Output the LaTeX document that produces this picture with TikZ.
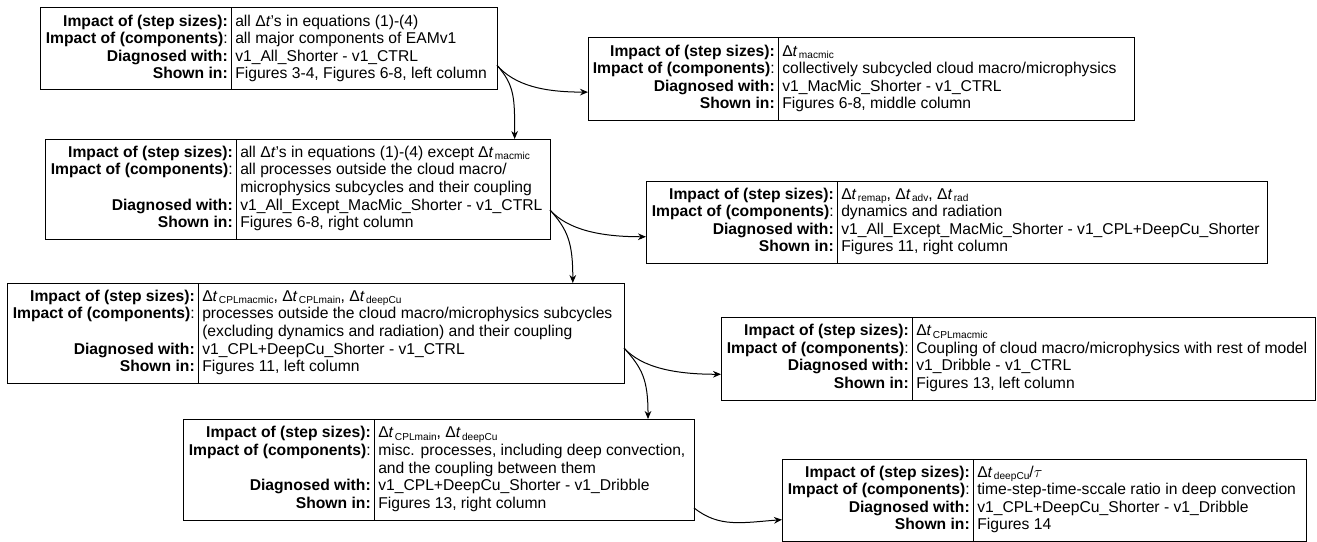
\documentclass[tikz,border=0pt]{standalone}
\usepackage{fontspec}
\setmainfont{Liberation Sans}
\usetikzlibrary{arrows.meta,calc,fit}

% type used inside the cards
\newcommand{\cardfont}{\fontsize{11.75}{13.2}\selectfont}
% one line of a card, bold heading / plain value
\newcommand{\hd}[1]{\strut\textbf{#1}}
\newcommand{\cellv}[1]{\strut #1}
% time step symbols
\newcommand{\dlt}{Δ\textit{t}}
\newcommand{\dtsub}[1]{Δ\textit{t}\kern1pt\raisebox{-0.3ex}{\fontsize{7.6}{8}\selectfont #1}}

\begin{document}
\begin{tikzpicture}[x=0.75pt,y=-0.75pt,
  card/.style={draw=black,line width=0.75pt,inner sep=0pt,outer sep=0pt},
  divider/.style={line width=0.75pt},
  lbl/.style={anchor=east,align=right,inner sep=0pt,font=\cardfont},
  val/.style={anchor=west,align=left,inner sep=0pt,font=\cardfont},
  link/.style={line width=0.75pt,-{Stealth[length=6pt,width=5pt]}}]
\useasboundingbox (0,0) rectangle (1317,542);

% ---- card 1: all step sizes
\node[card,fit={(40,8) (497,90)}] (b1) {};
\draw[divider] (231,8) -- (231,90);
\node[lbl] (b1k) at (228,49) {\hd{Impact of (step sizes):}\\\hd{Impact of (components)}:\\\hd{Diagnosed with:}\\\hd{Shown in:}};
\node[val] (b1v) at (235,49) {\cellv{all \dlt's in equations (1)-(4)}\\\cellv{all major components of EAMv1}\\\cellv{v1\_All\_Shorter - v1\_CTRL}\\\cellv{Figures 3-4, Figures 6-8, left column}};

% ---- card 2: macro/microphysics subcycles
\node[card,fit={(588,38) (1134,120)}] (b2) {};
\draw[divider] (778,38) -- (778,120);
\node[lbl] (b2k) at (775,79) {\hd{Impact of (step sizes):}\\\hd{Impact of (components)}:\\\hd{Diagnosed with:}\\\hd{Shown in:}};
\node[val] (b2v) at (782,79) {\cellv{\dtsub{macmic}}\\\cellv{collectively subcycled cloud macro/microphysics}\\\cellv{v1\_MacMic\_Shorter - v1\_CTRL}\\\cellv{Figures 6-8, middle column}};

% ---- card 3: everything except macmic
\node[card,fit={(45,139) (550,239)}] (b3) {};
\draw[divider] (236,139) -- (236,239);
\node[lbl] (b3k) at (233,189) {\hd{Impact of (step sizes):}\\\hd{Impact of (components)}:\\\strut\\\hd{Diagnosed with:}\\\hd{Shown in:}};
\node[val] (b3v) at (240,189) {\cellv{all \dlt's in equations (1)-(4) except \dtsub{macmic}}\\\cellv{all processes outside the cloud macro/}\\\cellv{microphysics subcycles and their coupling}\\\cellv{v1\_All\_Except\_MacMic\_Shorter - v1\_CTRL}\\\cellv{Figures 6-8, right column}};

% ---- card 4: dynamics and radiation
\node[card,fit={(646,181) (1267,263)}] (b4) {};
\draw[divider] (837,181) -- (837,263);
\node[lbl] (b4k) at (834,222) {\hd{Impact of (step sizes):}\\\hd{Impact of (components)}:\\\hd{Diagnosed with:}\\\hd{Shown in:}};
\node[val] (b4v) at (841,222) {\cellv{\dtsub{remap}, \dtsub{adv}, \dtsub{rad}}\\\cellv{dynamics and radiation}\\\cellv{v1\_All\_Except\_MacMic\_Shorter - v1\_CPL+DeepCu\_Shorter}\\\cellv{Figures 11, right column}};

% ---- card 5: coupling and deep convection
\node[card,fit={(7,283) (624,383)}] (b5) {};
\draw[divider] (198,283) -- (198,383);
\node[lbl] (b5k) at (195,333) {\hd{Impact of (step sizes):}\\\hd{Impact of (components)}:\\\strut\\\hd{Diagnosed with:}\\\hd{Shown in:}};
\node[val] (b5v) at (202,333) {\cellv{\dtsub{CPLmacmic}, \dtsub{CPLmain}, \dtsub{deepCu}}\\\cellv{processes outside the cloud macro/microphysics subcycles}\\\cellv{(excluding dynamics and radiation) and their coupling}\\\cellv{v1\_CPL+DeepCu\_Shorter - v1\_CTRL}\\\cellv{Figures 11, left column}};

% ---- card 6: macmic coupling
\node[card,fit={(721,317) (1315,400)}] (b6) {};
\draw[divider] (912,317) -- (912,400);
\node[lbl] (b6k) at (909,358.5) {\hd{Impact of (step sizes):}\\\hd{Impact of (components)}:\\\hd{Diagnosed with:}\\\hd{Shown in:}};
\node[val] (b6v) at (916,358.5) {\cellv{\dtsub{CPLmacmic}}\\\cellv{Coupling of cloud macro/microphysics with rest of model}\\\cellv{v1\_Dribble - v1\_CTRL}\\\cellv{Figures 13, left column}};

% ---- card 7: misc. processes
\node[card,fit={(183,419) (694,520)}] (b7) {};
\draw[divider] (374,419) -- (374,520);
\node[lbl] (b7k) at (371,469.5) {\hd{Impact of (step sizes):}\\\hd{Impact of (components)}:\\\strut\\\hd{Diagnosed with:}\\\hd{Shown in:}};
\node[val] (b7v) at (378,469.5) {\cellv{\dtsub{CPLmain}, \dtsub{deepCu}}\\\cellv{misc. processes, including deep convection,}\\\cellv{and the coupling between them}\\\cellv{v1\_CPL+DeepCu\_Shorter - v1\_Dribble}\\\cellv{Figures 13, right column}};

% ---- card 8: deep convection time-scale ratio
\node[card,fit={(782,459) (1306,541)}] (b8) {};
\draw[divider] (973,459) -- (973,541);
\node[lbl] (b8k) at (970,500) {\hd{Impact of (step sizes):}\\\hd{Impact of (components)}:\\\hd{Diagnosed with:}\\\hd{Shown in:}};
\node[val] (b8v) at (977,500) {\cellv{\dtsub{deepCu}/$\tau$}\\\cellv{time-step-time-sccale ratio in deep convection}\\\cellv{v1\_CPL+DeepCu\_Shorter - v1\_Dribble}\\\cellv{Figures 14}};

% ---- connectors
\coordinate (s1) at ($(b1.north east)!0.70!(b1.south east)$);
\draw[link] (s1) .. controls +(18,20) and +(-45,0) .. ($(b2.north west)!0.66!(b2.south west)$);
\draw[link] (s1) .. controls +(18,20) and +(0,-40) .. ($(b3.north west)!0.93!(b3.north east)$);

\coordinate (s3) at ($(b3.north east)!0.71!(b3.south east)$);
\draw[link] (s3) .. controls +(18,20) and +(-45,0) .. ($(b4.north west)!0.68!(b4.south west)$);
\draw[link] (s3) .. controls +(18,20) and +(0,-40) .. ($(b5.north west)!0.917!(b5.north east)$);

\coordinate (s5) at ($(b5.north east)!0.65!(b5.south east)$);
\draw[link] (s5) .. controls +(18,20) and +(-45,0) .. ($(b6.north west)!0.69!(b6.south west)$);
\draw[link] (s5) .. controls +(18,20) and +(0,-40) .. ($(b7.north west)!0.91!(b7.north east)$);

\coordinate (s7) at ($(b7.north east)!0.88!(b7.south east)$);
\draw[link] (s7) .. controls +(25,20) and +(-40,3) .. ($(b8.north west)!0.74!(b8.south west)$);
\end{tikzpicture}
\end{document}
